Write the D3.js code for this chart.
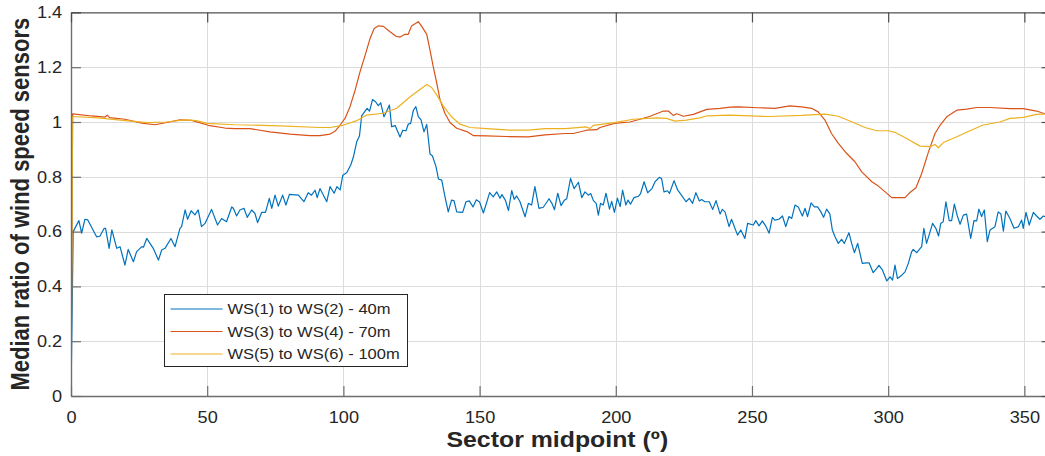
<!DOCTYPE html>
<html>
<head>
<meta charset="utf-8">
<script src="https://cdn.jsdelivr.net/npm/d3@7"></script>
<style>
  html, body { margin: 0; padding: 0; background: #fff; }
  svg { display: block; }
  text { font-family: "Liberation Sans", Arial, Helvetica, sans-serif; fill: #262626; }
</style>
</head>
<body>
<svg id="chart" width="1045" height="456"></svg>
<script>
// Axis ticks
const xTicks = [0, 50, 100, 150, 200, 250, 300, 350];
const xTickLabels = ["0", "50", "100", "150", "200", "250", "300", "350"];
const yTicks = [0, 0.2, 0.4, 0.6, 0.8, 1.0, 1.2, 1.4];
const yTickLabels = ["0", "0.2", "0.4", "0.6", "0.8", "1", "1.2", "1.4"];

// Legend entries
const seriesNames = ["WS(1) to WS(2) - 40m", "WS(3) to WS(4) - 70m", "WS(5) to WS(6) - 100m"];
const seriesColors = ["#0072BD", "#D95319", "#EDB120"];

// Median ratio per sector midpoint (degrees, ratio)
const ws40 = [
  [0,0.0],[0.8,0.60],[2.9,0.64],[3.9,0.594],[5.1,0.645],[6.1,0.643],[9.4,0.581],[10.6,0.583],
  [12.2,0.612],[12.7,0.612],[14.0,0.539],[15.0,0.606],[16.8,0.539],[18.0,0.545],[19.8,0.478],
  [21.0,0.535],[22.9,0.49],[24.1,0.527],[26.0,0.545],[26.6,0.543],[27.8,0.575],[30.2,0.539],
  [32.1,0.496],[33.3,0.533],[34.5,0.539],[36.7,0.575],[38.2,0.545],[40.0,0.612],[40.6,0.618],
  [41.9,0.679],[42.8,0.645],[44.1,0.676],[45.5,0.661],[46.7,0.679],[47.9,0.618],[49.2,0.63],
  [51.6,0.681],[53.8,0.624],[55.3,0.648],[57.1,0.636],[59.0,0.69],[59.6,0.685],[60.8,0.657],
  [62.0,0.679],[63.5,0.685],[64.7,0.652],[66.3,0.679],[67.5,0.667],[68.5,0.633],[70.0,0.670],
  [71.4,0.670],[72.8,0.721],[73.7,0.685],[74.9,0.733],[76.1,0.693],[77.7,0.733],[78.9,0.697],
  [80.2,0.736],[83.5,0.733],[85.5,0.709],[87.1,0.742],[88.3,0.733],[89.6,0.751],[90.4,0.724],
  [91.4,0.757],[93.9,0.709],[95.1,0.764],[96.6,0.740],[97.6,0.764],[98.8,0.752],[99.8,0.806],
  [101.2,0.815],[102.7,0.843],[103.7,0.873],[104.9,0.928],[105.9,0.949],[106.7,1.022],
  [108.7,1.05],[109.6,1.04],[110.7,1.082],[111.8,1.074],[112.8,1.06],[113.7,1.07],[114.9,1.019],
  [115.9,1.04],[116.9,1.062],[117.7,0.983],[119.0,0.987],[120.8,0.945],[121.8,0.97],[123.0,0.968],
  [123.8,0.992],[124.7,0.995],[125.7,1.043],[126.6,1.056],[127.5,1.02],[128.5,1.008],[129.6,0.964],
  [130.6,0.991],[131.8,0.883],[132.7,0.876],[134.0,0.837],[134.9,0.792],[136.1,0.788],[137.3,0.727],
  [138.5,0.672],[139.7,0.715],[140.6,0.713],[141.6,0.672],[143.8,0.67],[145.0,0.709],[146.2,0.712],
  [147.6,0.69],[148.8,0.716],[150.0,0.708],[151.4,0.668],[153.7,0.742],[155.0,0.727],[156.3,0.745],
  [157.5,0.722],[158.2,0.735],[159.5,0.714],[160.6,0.677],[161.8,0.75],[162.7,0.718],[163.6,0.73],
  [164.8,0.71],[166.7,0.654],[167.9,0.703],[169.1,0.697],[170.3,0.764],[171.8,0.685],[173.4,0.689],
  [175.5,0.72],[176.5,0.704],[177.5,0.68],[178.7,0.74],[179.9,0.695],[181.1,0.714],[182.0,0.72],
  [183.4,0.794],[184.7,0.757],[186.3,0.78],[187.5,0.724],[188.7,0.745],[189.9,0.733],[190.8,0.739],
  [191.8,0.713],[192.8,0.703],[193.6,0.66],[194.4,0.703],[195.4,0.697],[196.4,0.74],[197.7,0.682],
  [198.5,0.71],[199.5,0.67],[200.6,0.722],[201.6,0.691],[202.5,0.751],[203.7,0.697],[204.5,0.715],
  [205.4,0.7],[206.7,0.724],[208.3,0.729],[209.1,0.739],[210.4,0.782],[211.7,0.742],[213.3,0.757],
  [214.4,0.782],[216.0,0.798],[216.8,0.794],[217.7,0.745],[219.0,0.749],[219.7,0.739],[221.4,0.786],
  [222.7,0.752],[223.9,0.736],[225.8,0.709],[227.0,0.721],[228.2,0.703],[229.4,0.742],[230.7,0.712],
  [231.5,0.717],[232.7,0.709],[234.3,0.709],[235.6,0.681],[236.8,0.713],[238.3,0.664],[239.1,0.681],
  [240.1,0.672],[241.6,0.618],[242.5,0.645],[244.7,0.587],[245.9,0.606],[247.4,0.575],[248.4,0.63],
  [250.5,0.624],[251.4,0.64],[252.6,0.621],[253.8,0.639],[255.0,0.621],[256.3,0.594],[257.5,0.652],
  [258.4,0.642],[259.9,0.645],[261.2,0.657],[262.4,0.618],[263.6,0.655],[264.6,0.648],[265.8,0.697],
  [267.0,0.69],[268.5,0.657],[269.5,0.685],[270.4,0.655],[271.7,0.705],[272.9,0.69],[274.1,0.69],
  [275.3,0.672],[276.3,0.652],[277.4,0.682],[278.6,0.664],[279.5,0.606],[280.5,0.581],[281.7,0.557],
  [282.9,0.572],[283.9,0.557],[285.6,0.596],[286.6,0.557],[287.6,0.523],[288.8,0.557],[290.5,0.484],
  [292.1,0.486],[293.0,0.486],[294.5,0.45],[295.8,0.466],[296.6,0.477],[297.9,0.46],[299.5,0.42],
  [300.7,0.435],[301.6,0.423],[302.5,0.478],[303.4,0.429],[305.0,0.441],[306.2,0.453],[307.4,0.484],
  [308.6,0.526],[309.2,0.535],[310.5,0.523],[312.3,0.545],[313.1,0.612],[314.1,0.557],[315.3,0.596],
  [316.3,0.63],[317.5,0.612],[318.5,0.584],[319.3,0.63],[320.2,0.636],[321.2,0.709],[322.4,0.64],
  [323.3,0.64],[324.3,0.7],[325.4,0.657],[326.4,0.627],[327.6,0.66],[328.8,0.664],[330.3,0.575],
  [331.5,0.64],[332.5,0.639],[333.3,0.682],[334.3,0.655],[335.3,0.679],[336.4,0.563],[337.4,0.606],
  [339.2,0.618],[340.4,0.672],[341.4,0.664],[342.3,0.602],[343.2,0.675],[344.7,0.648],[346.2,0.612],
  [347.8,0.618],[349.0,0.642],[349.6,0.612],[350.6,0.67],[351.8,0.624],[353.3,0.67],[354.5,0.657],
  [355.7,0.645],[357.0,0.657],[359.0,0.65]
];

const ws70 = [
  [0,0.0],[0.6,1.03],[7.6,1.022],[12.5,1.018],[13.3,1.025],[14.2,1.016],[19.8,1.01],[26.0,0.996],
  [30.8,0.99],[35.7,0.999],[40.0,1.008],[44.3,1.006],[50.4,0.988],[56.5,0.978],[60.2,0.976],
  [65.7,0.976],[73.0,0.964],[80.4,0.956],[87.7,0.95],[91.4,0.95],[95.1,0.956],[96.9,0.966],
  [98.8,0.989],[100.6,1.013],[102.4,1.055],[104.3,1.116],[106.1,1.183],[108.0,1.244],[109.8,1.305],
  [111.3,1.341],[112.9,1.351],[114.7,1.349],[117.0,1.33],[119.3,1.313],[120.8,1.31],[122.6,1.32],
  [123.8,1.32],[125.0,1.35],[127.5,1.366],[128.7,1.35],[130.6,1.32],[131.8,1.262],[133.0,1.201],
  [134.3,1.141],[135.5,1.08],[137.3,1.031],[139.2,0.997],[141.6,0.977],[145.3,0.965],[147.8,0.95],
  [152.6,0.949],[159.9,0.947],[167.9,0.946],[174.0,0.953],[181.4,0.958],[184.4,0.958],[189.3,0.97],
  [193.0,0.972],[194.2,0.98],[199.5,0.995],[205.2,1.0],[208.9,1.01],[212.6,1.021],[217.5,1.04],
  [219.3,1.04],[221.1,1.024],[222.4,1.03],[224.8,1.021],[228.5,1.028],[233.4,1.046],[238.3,1.05],
  [242.0,1.054],[245.0,1.055],[252.3,1.052],[258.4,1.05],[263.9,1.059],[268.2,1.055],[271.9,1.05],
  [274.3,1.037],[276.8,1.007],[279.2,0.958],[281.7,0.922],[284.8,0.885],[287.8,0.855],[290.3,0.818],
  [294.0,0.782],[296.4,0.766],[298.9,0.745],[301.3,0.724],[306.2,0.724],[308.0,0.743],[310.2,0.76],
  [312.3,0.812],[314.8,0.891],[317.2,0.958],[319.1,0.989],[321.5,1.019],[325.2,1.043],[328.9,1.047],
  [332.5,1.053],[337.4,1.053],[344.7,1.049],[349.6,1.049],[354.5,1.04],[357.2,1.031],[359.0,1.028]
];

const ws100 = [
  [0,0.0],[0.6,1.02],[10.0,1.015],[20.0,1.005],[28.0,0.998],[35.0,1.0],[42.0,1.008],[46.0,1.005],
  [50.0,0.995],[60.0,0.99],[76.7,0.986],[91.4,0.98],[95.1,0.98],[99.8,0.988],[104.7,1.004],
  [108.4,1.025],[114.7,1.032],[119.6,1.05],[124.5,1.092],[127.5,1.114],[130.6,1.137],[132.4,1.126],
  [134.3,1.098],[136.7,1.058],[139.7,1.019],[142.8,0.992],[146.5,0.98],[152.6,0.976],[161.2,0.97],
  [167.9,0.97],[174.0,0.976],[181.4,0.976],[189.3,0.982],[190.5,0.976],[191.8,0.988],[199.5,0.998],
  [206.4,1.01],[214.9,1.015],[218.6,1.013],[221.7,1.003],[225.9,1.007],[230.8,1.015],[233.3,1.022],
  [241.9,1.025],[256.0,1.02],[268.2,1.024],[276.8,1.029],[281.7,1.021],[286.6,1.001],[291.5,0.98],
  [295.8,0.968],[300.1,0.968],[302.6,0.962],[306.8,0.94],[311.7,0.912],[315.4,0.91],[317.2,0.918],
  [318.4,0.906],[320.3,0.925],[325.2,0.946],[330.0,0.968],[334.9,0.989],[341.0,1.0],[344.7,1.013],
  [349.6,1.017],[354.5,1.028],[357.2,1.029],[359.0,1.03]
];

const allSeries = [ws40, ws70, ws100];

// Layout
const svg = d3.select("#chart");
const plot = { left: 71, right: 1051.6, top: 12.4, bottom: 396 };
const stretch = 1.1; // horizontal glyph stretch of the exported figure

const x = d3.scaleLinear().domain([0, 360]).range([plot.left, plot.right]);
const y = d3.scaleLinear().domain([0, 1.4]).range([plot.bottom, plot.top]);

svg.append("rect").attr("width", 1045).attr("height", 456).attr("fill", "#fff");

// Grid
const grid = svg.append("g").attr("stroke", "#dcdcdc").attr("stroke-width", 1);
grid.selectAll("line.vx").data(xTicks.filter(d => d > 0)).join("line")
  .attr("x1", d => Math.round(x(d)) + 0.5).attr("x2", d => Math.round(x(d)) + 0.5)
  .attr("y1", plot.top).attr("y2", plot.bottom);
grid.selectAll("line.hy").data(yTicks.filter(d => d > 0 && d < 1.4)).join("line")
  .attr("y1", d => Math.round(y(d)) + 0.5).attr("y2", d => Math.round(y(d)) + 0.5)
  .attr("x1", plot.left).attr("x2", plot.right);

// Series lines
svg.append("clipPath").attr("id", "plotClip").append("rect")
  .attr("x", plot.left).attr("y", plot.top)
  .attr("width", plot.right - plot.left).attr("height", plot.bottom - plot.top);

const line = d3.line().x(d => x(d[0])).y(d => y(d[1]));
svg.append("g").attr("clip-path", "url(#plotClip)")
  .selectAll("path").data(allSeries).join("path")
  .attr("d", line)
  .attr("fill", "none")
  .attr("stroke", (d, i) => seriesColors[i])
  .attr("stroke-width", 1.2)
  .attr("stroke-linejoin", "round");

// Axes (ticks point inward)
const xAxis = svg.append("g").attr("transform", `translate(0,${plot.bottom})`)
  .call(d3.axisBottom(x).tickValues(xTicks).tickFormat((d, i) => xTickLabels[i])
    .tickSizeInner(-10).tickSizeOuter(0).tickPadding(15));
const yAxis = svg.append("g").attr("transform", `translate(${plot.left},0)`)
  .call(d3.axisLeft(y).tickValues(yTicks).tickFormat((d, i) => yTickLabels[i])
    .tickSizeInner(-10).tickSizeOuter(0).tickPadding(8));
const xTop = svg.append("g").attr("transform", `translate(0,${plot.top})`)
  .call(d3.axisTop(x).tickValues(xTicks).tickFormat("").tickSizeInner(-10).tickSizeOuter(0));
const yRight = svg.append("g").attr("transform", `translate(${plot.right},0)`)
  .call(d3.axisRight(y).tickValues(yTicks).tickFormat("").tickSizeInner(-10).tickSizeOuter(0));

[xAxis, yAxis].forEach(g => {
  g.select(".domain").attr("stroke", "#6e6e6e").attr("stroke-width", 1.4);
  g.selectAll(".tick line").attr("stroke", "#6e6e6e").attr("stroke-width", 1.2);
  g.selectAll(".tick text")
    .attr("font-size", 16.5)
    .attr("font-family", "'Liberation Sans', Arial, sans-serif")
    .attr("fill", "#262626");
});
xAxis.selectAll(".tick text").attr("transform", `scale(${stretch},1)`);
yAxis.selectAll(".tick text").attr("transform", `scale(${stretch},1)`);
[xTop, yRight].forEach(g => {
  g.select(".domain").attr("stroke", "#262626").attr("stroke-width", 1);
  g.selectAll(".tick line").attr("stroke", "#4d4d4d").attr("stroke-width", 1.2);
});

// Axis titles
svg.append("g")
  .attr("transform", `translate(${(plot.left + plot.right) / 2 - 4},447) scale(${stretch + 0.03},1)`)
  .append("text")
  .attr("text-anchor", "middle")
  .attr("font-size", 22).attr("font-weight", "bold").attr("fill", "#1a1a1a")
  .text("Sector midpoint (º)");

svg.append("g")
  .attr("transform", `translate(29,${(plot.top + plot.bottom) / 2}) scale(${stretch + 0.03},1)`)
  .append("text")
  .attr("transform", "rotate(-90)")
  .attr("text-anchor", "middle")
  .attr("font-size", 22).attr("font-weight", "bold").attr("fill", "#1a1a1a")
  .text("Median ratio of wind speed sensors");

// Legend
const legend = svg.append("g");
legend.append("rect")
  .attr("x", 164.5).attr("y", 294.5).attr("width", 243).attr("height", 72)
  .attr("fill", "#fff").attr("stroke", "#262626").attr("stroke-width", 1);
const rows = legend.selectAll("g.row").data(seriesNames).join("g")
  .attr("transform", (d, i) => `translate(0,${309 + i * 22.5})`);
rows.append("line")
  .attr("x1", 170.5).attr("x2", 222.5).attr("y1", 0).attr("y2", 0)
  .attr("stroke", (d, i) => seriesColors[i]).attr("stroke-width", 1.2);
rows.append("g").attr("transform", `translate(227.5,0) scale(${stretch},1)`)
  .append("text")
  .attr("dy", "0.36em")
  .attr("font-size", 15)
  .attr("fill", "#1a1a1a")
  .text(d => d);
</script>
</body>
</html>
